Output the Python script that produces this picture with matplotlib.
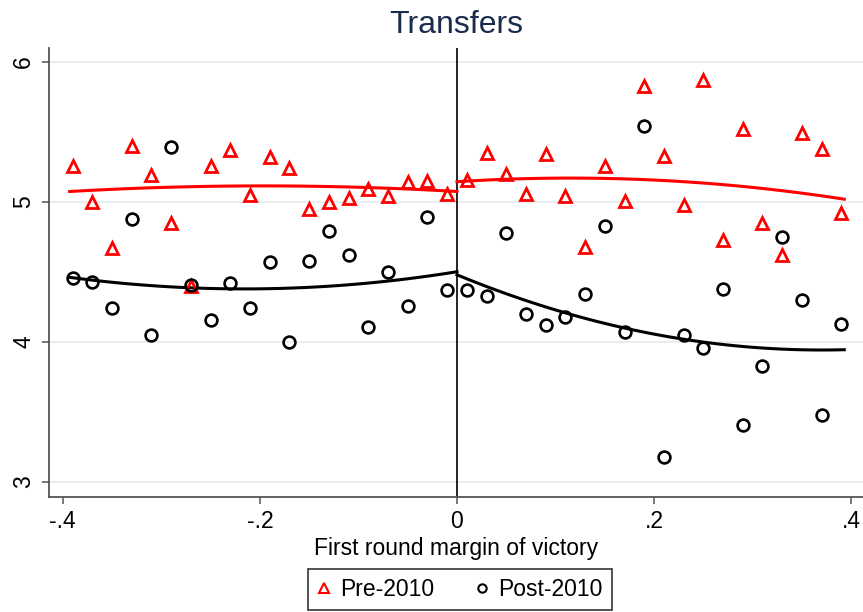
import numpy as np
import matplotlib
matplotlib.use("Agg")
import matplotlib.pyplot as plt
from matplotlib.lines import Line2D

plt.rcParams['font.family'] = ['Liberation Sans', 'DejaVu Sans']

# Bin midpoints of the first round margin of victory
bins_left = np.arange(-0.39, 0.0, 0.02)
bins_right = np.arange(0.01, 0.40, 0.02)

# Mean transfers per bin, pre-2010 elections
pre_left = [5.26, 5.00, 4.67, 5.40, 5.19, 4.85, 4.40, 5.26, 5.37, 5.05,
            5.32, 5.24, 4.95, 5.00, 5.03, 5.09, 5.04, 5.14, 5.15, 5.06]
pre_right = [5.16, 5.35, 5.20, 5.06, 5.34, 5.04, 4.68, 5.26, 5.01, 5.83,
             5.33, 4.98, 5.87, 4.73, 5.52, 4.85, 4.62, 5.49, 5.38, 4.92]

# Mean transfers per bin, post-2010 elections
post_left = [4.46, 4.43, 4.24, 4.88, 4.05, 5.39, 4.41, 4.16, 4.42, 4.24,
             4.57, 4.00, 4.58, 4.79, 4.62, 4.11, 4.50, 4.26, 4.89, 4.37]
post_right = [4.37, 4.33, 4.78, 4.20, 4.12, 4.18, 4.34, 4.83, 4.07, 5.54,
              3.18, 4.05, 3.96, 4.38, 3.41, 3.83, 4.75, 4.30, 3.48, 4.13]

# Quadratic fit (estimated on the underlying observations), evaluated at
# the ends and the middle of each side of the cutoff
fit_x_left = [-0.393, -0.2, 0.0]
fit_x_right = [0.0, 0.17, 0.393]
fit_pre_left = [5.075, 5.115, 5.075]
fit_pre_right = [5.145, 5.165, 5.02]
fit_post_left = [4.462, 4.38, 4.502]
fit_post_right = [4.48, 4.10, 3.945]

red = '#FF0000'
navy = '#1A2B4C'
grid_col = '#E6EEF1'

fig = plt.figure(figsize=(8.63, 6.12), dpi=100)
ax = fig.add_axes([49 / 863, 115 / 612, 814 / 863, 449 / 612])

for fx, fy, col in [(fit_x_left, fit_pre_left, red), (fit_x_right, fit_pre_right, red),
                    (fit_x_left, fit_post_left, 'black'), (fit_x_right, fit_post_right, 'black')]:
    coef = np.polyfit(fx, fy, 2)
    grid = np.linspace(fx[0], fx[-1], 100)
    ax.plot(grid, np.polyval(coef, grid), color=col, lw=2.2, zorder=3)

tri = dict(marker='^', linestyle='none', markersize=9, markerfacecolor='none',
           markeredgecolor=red, markeredgewidth=2.0, zorder=4)
circ = dict(marker='o', linestyle='none', markersize=8.5, markerfacecolor='none',
            markeredgecolor='black', markeredgewidth=1.9, zorder=4)
ax.plot(bins_left, pre_left, **tri)
ax.plot(bins_right, pre_right, **tri)
ax.plot(bins_left, post_left, **circ)
ax.plot(bins_right, post_right, **circ)

ax.axvline(0, color='black', lw=1.2, zorder=2)

ax.set_xlim(-0.414, 0.412)
ax.set_ylim(2.893, 6.1)
ax.set_xticks([-0.4, -0.2, 0, 0.2, 0.4])
ax.set_xticklabels(['-.4', '-.2', '0', '.2', '.4'])
ax.set_yticks([3, 4, 5, 6])
ax.set_yticklabels(['3', '4', '5', '6'], rotation=90, va='center')
for y in [3, 4, 5, 6]:
    ax.axhline(y, color=grid_col, lw=1.3, zorder=1)

for s in ['top', 'right']:
    ax.spines[s].set_visible(False)
for s in ['left', 'bottom']:
    ax.spines[s].set_color('#555555')
    ax.spines[s].set_linewidth(1.3)
ax.tick_params(axis='both', direction='out', length=5, width=1.1,
               color='#555555', labelsize=16.5)
ax.tick_params(axis='y', pad=5)
ax.tick_params(axis='x', pad=4)

ax.set_xlabel('First round margin of victory', fontsize=16.5, labelpad=3)
ax.set_title('Transfers', fontsize=23, color=navy, pad=11)

handles = [Line2D([], [], marker='^', linestyle='none', markersize=7,
                  markerfacecolor='none', markeredgecolor=red, markeredgewidth=1.5),
           Line2D([], [], marker='o', linestyle='none', markersize=6,
                  markerfacecolor='none', markeredgecolor='black', markeredgewidth=1.5)]
leg = fig.legend(handles, ['Pre-2010', 'Post-2010'], loc='upper center',
                 bbox_to_anchor=(460 / 863, 1 - 562 / 612), ncol=2, fontsize=16.5,
                 frameon=True, fancybox=False, edgecolor='black', handlelength=0.6,
                 handletextpad=0.4, columnspacing=1.8, borderpad=0.4,
                 borderaxespad=0.3)
leg.get_frame().set_linewidth(1.2)

fig.savefig('out.png', dpi=100)
